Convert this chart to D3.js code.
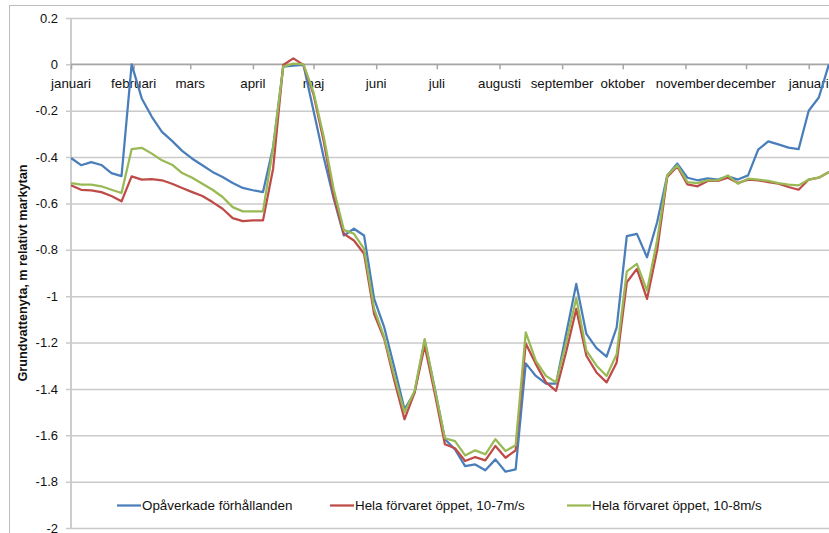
<!DOCTYPE html>
<html><head><meta charset="utf-8">
<script src="https://cdn.jsdelivr.net/npm/d3@7"></script>
<style>html,body{margin:0;padding:0;background:#fff;}svg{display:block;font-family:"Liberation Sans",Arial,sans-serif;}</style>
</head><body>
<svg id="c" width="829" height="533"></svg>
<script>
const dates = ["2013-01-01","2013-01-06","2013-01-11","2013-01-16","2013-01-21","2013-01-26","2013-01-31",
"2013-02-05","2013-02-10","2013-02-15","2013-02-20","2013-02-25","2013-03-02","2013-03-07","2013-03-12",
"2013-03-17","2013-03-22","2013-03-27","2013-04-01","2013-04-06","2013-04-11","2013-04-16","2013-04-21",
"2013-04-26","2013-05-01","2013-05-06","2013-05-11","2013-05-16","2013-05-21","2013-05-26","2013-05-31",
"2013-06-05","2013-06-10","2013-06-15","2013-06-20","2013-06-25","2013-06-30","2013-07-05","2013-07-10",
"2013-07-15","2013-07-20","2013-07-25","2013-07-30","2013-08-04","2013-08-09","2013-08-14","2013-08-19",
"2013-08-24","2013-08-29","2013-09-03","2013-09-08","2013-09-13","2013-09-18","2013-09-23","2013-09-28",
"2013-10-03","2013-10-08","2013-10-13","2013-10-18","2013-10-23","2013-10-28","2013-11-02","2013-11-07",
"2013-11-12","2013-11-17","2013-11-22","2013-11-27","2013-12-02","2013-12-07","2013-12-12","2013-12-17",
"2013-12-22","2013-12-27","2014-01-01","2014-01-06","2014-01-11"];

const opaverkade = [-0.404,-0.435,-0.422,-0.434,-0.469,-0.482,0.0,-0.147,-0.226,-0.291,-0.33,-0.373,-0.407,-0.435,-0.464,
-0.486,-0.512,-0.533,-0.543,-0.551,-0.356,-0.01,-0.005,-0.002,-0.2,-0.4,-0.58,-0.738,-0.709,-0.738,-1.012,
-1.135,-1.308,-1.488,-1.416,-1.192,-1.398,-1.617,-1.661,-1.733,-1.726,-1.751,-1.704,-1.757,-1.747,-1.29,-1.344,
-1.377,-1.377,-1.162,-0.947,-1.163,-1.224,-1.261,-1.135,-0.741,-0.731,-0.832,-0.681,-0.479,-0.428,-0.489,-0.5,
-0.492,-0.497,-0.483,-0.497,-0.479,-0.368,-0.332,-0.345,-0.359,-0.366,-0.2,-0.143,0.0];

const hela7 = [-0.522,-0.541,-0.544,-0.551,-0.568,-0.591,-0.483,-0.497,-0.495,-0.5,-0.515,-0.533,-0.551,-0.568,-0.594,
-0.623,-0.663,-0.676,-0.673,-0.673,-0.45,-0.003,0.026,-0.002,-0.13,-0.33,-0.57,-0.731,-0.76,-0.817,-1.077,
-1.185,-1.365,-1.531,-1.416,-1.214,-1.42,-1.639,-1.656,-1.711,-1.694,-1.708,-1.646,-1.697,-1.665,-1.204,-1.293,
-1.372,-1.408,-1.24,-1.055,-1.257,-1.329,-1.372,-1.286,-0.94,-0.882,-1.012,-0.803,-0.486,-0.44,-0.518,-0.526,
-0.503,-0.503,-0.489,-0.512,-0.497,-0.5,-0.508,-0.515,-0.529,-0.541,-0.497,-0.489,-0.464];

const hela8 = [-0.512,-0.519,-0.519,-0.526,-0.541,-0.555,-0.366,-0.36,-0.385,-0.414,-0.433,-0.469,-0.489,-0.515,-0.541,
-0.572,-0.616,-0.634,-0.634,-0.634,-0.36,-0.01,0.003,0.0,-0.12,-0.31,-0.54,-0.714,-0.731,-0.796,-1.055,
-1.178,-1.344,-1.502,-1.408,-1.185,-1.4,-1.613,-1.625,-1.687,-1.665,-1.682,-1.617,-1.668,-1.643,-1.156,-1.279,
-1.344,-1.372,-1.2,-1.008,-1.235,-1.3,-1.344,-1.25,-0.893,-0.861,-0.976,-0.76,-0.479,-0.435,-0.508,-0.512,
-0.5,-0.5,-0.479,-0.515,-0.493,-0.497,-0.503,-0.512,-0.519,-0.522,-0.497,-0.489,-0.464];

const monthNames = ["januari","februari","mars","april","maj","juni","juli","augusti","september","oktober","november","december"];
const yTicks = [0.2,0,-0.2,-0.4,-0.6,-0.8,-1,-1.2,-1.4,-1.6,-1.8,-2];
const seriesNames = ["Opåverkade förhållanden","Hela förvaret öppet, 10-7m/s","Hela förvaret öppet, 10-8m/s"];
const colors = ["#4a7ebb","#be4b48","#98b954"];

(function(){
const parse = d3.timeParse("%Y-%m-%d");
const dts = dates.map(parse);
const series = [opaverkade, hela7, hela8];

const svg = d3.select("#c");
const pLeft = 71, pTop = 18, pBottom = 528;
const pxPerDay = (808.7 - 71) / 365;
const domEnd = new Date(2013, 0, 1 + 381);
const pRight = pLeft + 381 * pxPerDay;

const x = d3.scaleTime().domain([new Date(2013,0,1), domEnd]).range([pLeft, pRight]);
const y = d3.scaleLinear().domain([-2, 0.2]).range([pBottom, pTop]);

svg.append("rect").attr("x",9.5).attr("y",5.5).attr("width",900).attr("height",600)
  .attr("fill","none").attr("stroke","#bcbcbc").attr("stroke-width",1);

const yAxis = d3.axisLeft(y).tickValues(yTicks).tickSize(-(pRight-pLeft)).tickPadding(12)
  .tickFormat(d => String(+d.toFixed(1)));
const gy = svg.append("g").attr("transform",`translate(${pLeft},0)`).call(yAxis);
gy.select(".domain").attr("stroke","#bdbdbd").attr("stroke-width",1.5).attr("d",`M0,${pTop}V${pBottom}`);
gy.selectAll(".tick line").attr("stroke","#cacaca").attr("stroke-width",1.5).attr("x1",-5);
gy.selectAll(".tick text").attr("font-size",13).attr("fill","#111").attr("x",-13);

const months = d3.timeMonth.range(new Date(2013,0,1), new Date(2014,0,2));
const xAxis = d3.axisBottom(x).tickValues(months).tickSize(5).tickFormat("");
const gx = svg.append("g").attr("transform",`translate(0,${y(0)})`).call(xAxis);
gx.select(".domain").attr("stroke","#a6a6a6").attr("stroke-width",1.5).attr("d",`M${pLeft},0H${pRight}`);
gx.selectAll(".tick line").attr("stroke","#a6a6a6").attr("stroke-width",1.5);
svg.append("g").selectAll("text").data(months).join("text")
  .attr("x", d => x(d)).attr("y", y(0) + 23.5).attr("text-anchor","middle")
  .attr("font-size",13.3).attr("fill","#111").text(d => monthNames[d.getMonth()]);

svg.append("clipPath").attr("id","pc").append("rect")
  .attr("x",pLeft).attr("y",pTop-10).attr("width",pRight-pLeft).attr("height",pBottom-pTop+10);
const line = d3.line().x((d,i) => x(dts[i])).y(d => y(d));
svg.append("g").attr("clip-path","url(#pc)").selectAll("path").data(series).join("path")
  .attr("d", d => line(d)).attr("fill","none").attr("stroke",(d,i)=>colors[i])
  .attr("stroke-width",2.25).attr("stroke-linejoin","round");

svg.append("text").attr("transform","translate(27,273) rotate(-90)").attr("text-anchor","middle")
  .attr("font-size",12.7).attr("font-weight","bold").attr("fill","#111")
  .text("Grundvattenyta, m relativt markytan");

const legX = [117, 330, 567];
const lg = svg.append("g").selectAll("g").data(seriesNames).join("g")
  .attr("transform",(d,i)=>`translate(${legX[i]},505.5)`);
lg.append("line").attr("x1",0).attr("x2",24).attr("stroke",(d,i)=>colors[i]).attr("stroke-width",2.25);
lg.append("text").attr("x",25).attr("dy","0.35em").attr("font-size",13.4).attr("fill","#111").text(d=>d);
})();
</script>
</body></html>
